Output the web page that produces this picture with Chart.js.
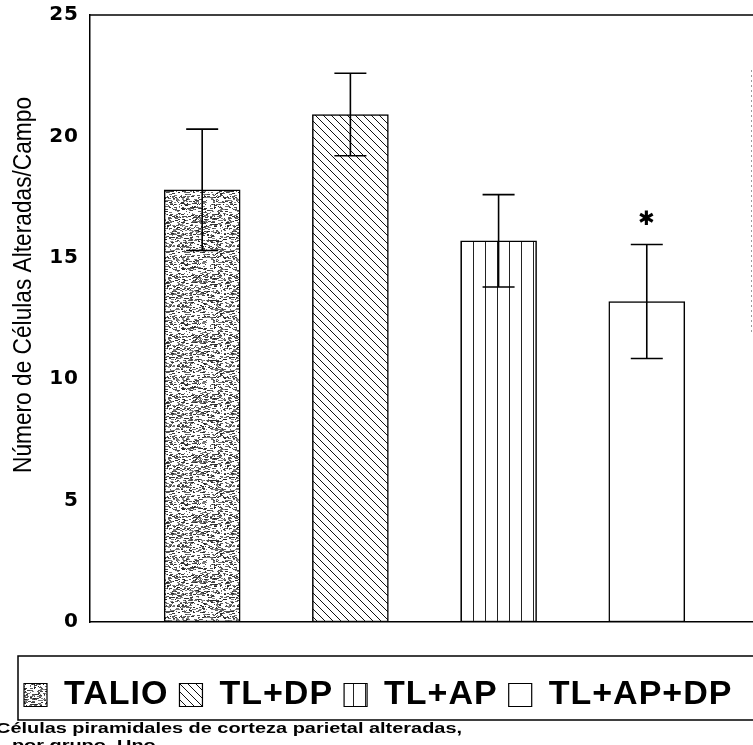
<!DOCTYPE html>
<html>
<head>
<meta charset="utf-8">
<script src="https://cdn.jsdelivr.net/npm/chart.js@4.4.1/dist/chart.umd.min.js"></script>
<style>
  html, body { margin: 0; padding: 0; background: #fff; }
  #wrap { width: 753px; height: 745px; }
</style>
</head>
<body>
<div id="wrap"><canvas id="chart" width="753" height="745"></canvas></div>
<script>
const groups = ['TALIO', 'TL+DP', 'TL+AP', 'TL+AP+DP']
const positions = [1, 2, 3, 4]
const means = [17.8, 20.9, 15.7, 13.2]
const errors = [2.5, 1.7, 1.9, 2.35]
const significant = [false, false, false, true]
const yTicks = [0, 5, 10, 15, 20, 25]
const yTitle = 'Número de Células Alteradas/Campo'
const caption = ['Células piramidales de corteza parietal alteradas,', 'por grupo. Uno']

// simple seeded random, only for the speckled texture
let seed = 7
function rnd() {
  seed = (seed * 16807) % 2147483647
  return seed / 2147483647
}

function speckle() {
  const c = document.createElement('canvas')
  c.width = 60; c.height = 60
  const g = c.getContext('2d')
  g.fillStyle = '#fff'
  g.fillRect(0, 0, 60, 60)
  for (let i = 0; i < 900; i++) {
    const v = 30 + Math.floor(rnd() * 110)
    g.fillStyle = `rgb(${v},${v},${v})`
    g.fillRect(Math.floor(rnd() * 60), Math.floor(rnd() * 60), 1 + Math.floor(rnd() * 3), 1)
  }
  return g.createPattern(c, 'repeat')
}

function hatch() {
  const s = 8
  const c = document.createElement('canvas')
  c.width = s; c.height = s
  const g = c.getContext('2d')
  g.fillStyle = '#fff'
  g.fillRect(0, 0, s, s)
  g.strokeStyle = '#111'
  g.lineWidth = 1
  g.beginPath()
  g.moveTo(-1, -1); g.lineTo(s + 1, s + 1)
  g.moveTo(-1, s - 1); g.lineTo(1, s + 1)
  g.moveTo(s - 1, -1); g.lineTo(s + 1, 1)
  g.stroke()
  return g.createPattern(c, 'repeat')
}

function vlines() {
  const c = document.createElement('canvas')
  c.width = 12; c.height = 4
  const g = c.getContext('2d')
  g.fillStyle = '#fff'
  g.fillRect(0, 0, 12, 4)
  g.fillStyle = '#222'
  g.fillRect(5, 0, 1, 4)
  return g.createPattern(c, 'repeat')
}

const fills = [speckle(), hatch(), vlines(), '#ffffff']

// wider text like the scanned original
const spacing = {
  id: 'spacing',
  beforeLayout(chart) { chart.ctx.letterSpacing = '1px' }
}

const errorBars = {
  id: 'errorBars',
  afterDatasetsDraw(chart) {
    const ctx = chart.ctx
    const y = chart.scales.y
    const meta = chart.getDatasetMeta(0)
    ctx.save()
    ctx.strokeStyle = '#000'
    ctx.lineWidth = 1.6
    meta.data.forEach((bar, i) => {
      const top = y.getPixelForValue(means[i] + errors[i])
      const bot = y.getPixelForValue(means[i] - errors[i])
      ctx.beginPath()
      ctx.moveTo(bar.x, top); ctx.lineTo(bar.x, bot)
      ctx.moveTo(bar.x - 16, top); ctx.lineTo(bar.x + 16, top)
      ctx.moveTo(bar.x - 16, bot); ctx.lineTo(bar.x + 16, bot)
      ctx.stroke()
      if (significant[i]) {
        ctx.fillStyle = '#000'
        ctx.font = 'bold 20px "DejaVu Sans"'
        ctx.textAlign = 'center'
        ctx.textBaseline = 'middle'
        ctx.fillText('✱', bar.x, y.getPixelForValue(means[i] + errors[i] + 1.0))
      }
    })
    ctx.restore()
  }
}

const frame = {
  id: 'frame',
  afterDraw(chart) {
    const ctx = chart.ctx
    const a = chart.chartArea
    const lg = chart.legend
    ctx.save()
    // top border of plot
    ctx.strokeStyle = '#000'
    ctx.lineWidth = 1.5
    ctx.beginPath()
    ctx.moveTo(a.left, a.top); ctx.lineTo(chart.width, a.top)
    ctx.stroke()
    // faint dotted right edge
    ctx.strokeStyle = '#999'
    ctx.lineWidth = 1
    ctx.setLineDash([2, 3])
    ctx.beginPath()
    ctx.moveTo(a.right - 0.5, a.top + 55); ctx.lineTo(a.right - 0.5, a.top + 320)
    ctx.stroke()
    ctx.setLineDash([])
    // legend outline
    const hb = lg.legendHitBoxes[0]
    ctx.strokeStyle = '#000'
    ctx.lineWidth = 1.5
    ctx.strokeRect(18, hb.top - 22, chart.width + 10, hb.height + 30)
    // y axis title
    ctx.letterSpacing = '0px'
    ctx.fillStyle = '#000'
    ctx.font = '25px "Liberation Sans Narrow", "Liberation Sans"'
    ctx.textAlign = 'center'
    ctx.textBaseline = 'middle'
    let w = ctx.measureText(yTitle).width
    ctx.translate(24, 285)
    ctx.rotate(-Math.PI / 2)
    ctx.scale(376 / w, 1)
    ctx.fillText(yTitle, 0, 0)
    ctx.setTransform(1, 0, 0, 1, 0, 0)
    // caption below the legend
    ctx.font = 'bold 15px "Liberation Sans"'
    ctx.textAlign = 'left'
    w = ctx.measureText(caption[0]).width
    ctx.translate(-4, 0)
    ctx.scale(466 / w, 1)
    ctx.fillText(caption[0], 0, 729)
    ctx.fillText(caption[1], 12, 746)
    ctx.restore()
  }
}

new Chart(document.getElementById('chart'), {
  type: 'bar',
  data: {
    labels: groups,
    datasets: [{
      data: positions.map((p, i) => ({ x: p, y: means[i] })),
      backgroundColor: fills,
      borderColor: '#000',
      borderWidth: 1.5,
      borderSkipped: false,
      barThickness: 76
    }]
  },
  options: {
    responsive: false,
    animation: false,
    layout: { padding: { left: 13, right: 1, top: 11, bottom: 23 } },
    plugins: {
      tooltip: { enabled: false },
      legend: {
        position: 'bottom',
        align: 'start',
        labels: {
          color: '#000',
          font: { family: 'Liberation Sans', size: 34, weight: 'bold' },
          boxWidth: 23,
          boxHeight: 23,
          padding: 11,
          generateLabels: () => groups.map((g, i) => ({
            text: g,
            fillStyle: fills[i],
            strokeStyle: '#000',
            lineWidth: 1.2,
            index: i
          }))
        }
      }
    },
    scales: {
      x: {
        type: 'linear',
        offset: false,
        min: 0.243,
        max: 4.71,
        grid: { display: false },
        ticks: { display: false },
        border: { display: true, color: '#000', width: 1.5 },
        afterFit: (axis) => { axis.height = 45 }
      },
      y: {
        min: 0,
        max: 25,
        afterBuildTicks: (axis) => { axis.ticks = yTicks.map(v => ({ value: v })) },
        grid: { display: false },
        border: { display: true, color: '#000', width: 1.5 },
        ticks: {
          color: '#000',
          padding: 3,
          font: { family: 'DejaVu Sans', size: 20, weight: 'bold' }
        },
        afterFit: (axis) => { axis.width = 77 }
      }
    }
  },
  plugins: [spacing, errorBars, frame]
})
</script>
</body>
</html>
